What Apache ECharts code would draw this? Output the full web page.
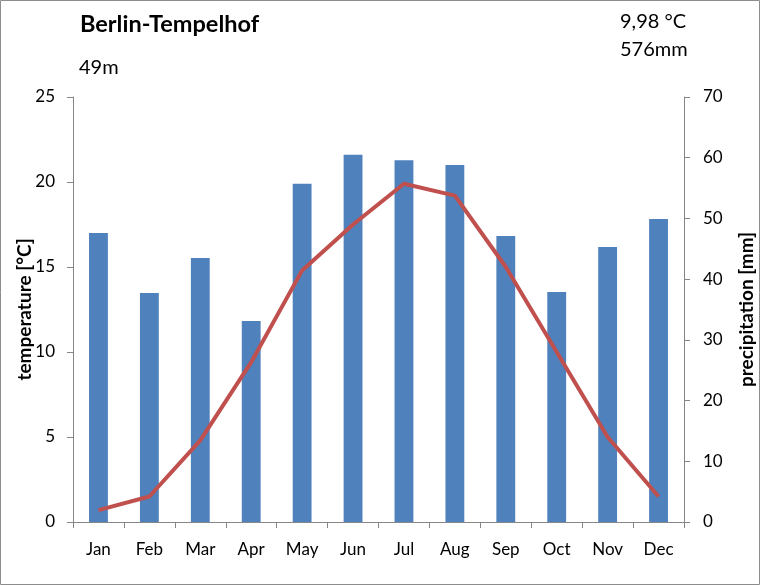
<!DOCTYPE html>
<html>
<head>
<meta charset="utf-8">
<script src="https://cdn.jsdelivr.net/npm/echarts@6/dist/echarts.min.js"></script>
<style>
html,body{margin:0;padding:0;background:#fff;}
#c{width:760px;height:585px;}
</style>
</head>
<body>
<div id="c"></div>
<script>
const months = ['Jan','Feb','Mar','Apr','May','Jun','Jul','Aug','Sep','Oct','Nov','Dec'];
const temperature = [0.7, 1.5, 4.8, 9.4, 14.8, 17.5, 19.9, 19.2, 15.0, 10.0, 5.0, 1.5];
const precipitation = [47.6, 37.7, 43.5, 33.1, 55.7, 60.5, 59.6, 58.8, 47.1, 37.9, 45.3, 49.9];
const tempTicks = {min: 0, max: 25, interval: 5};
const precTicks = {min: 0, max: 70, interval: 10};
const titleText = 'Berlin-Tempelhof';
const elevationText = '49m';
const meanTempText = '9,98 °C';
const totalPrecText = '576mm';

const FONT = 'Lato, "Liberation Sans", sans-serif';
const axisGray = '#868686';
const chart = echarts.init(document.getElementById('c'));
chart.setOption({
  animation: false,
  backgroundColor: '#fff',
  textStyle: {fontFamily: FONT},
  graphic: [
    {type: 'rect', shape: {x: 0.5, y: 0.5, width: 759, height: 584},
     style: {fill: 'none', stroke: '#8c8c8c', lineWidth: 1}},
    {type: 'text', style: {x: 80, y: 24, verticalAlign: 'middle', text: titleText, font: 'bold 23.5px ' + FONT, fill: '#000'}},
    {type: 'text', style: {x: 79, y: 68, verticalAlign: 'middle', text: elevationText, font: '20px ' + FONT, fill: '#000'}},
    {type: 'text', style: {x: 620, y: 22, verticalAlign: 'middle', text: meanTempText, font: '20px ' + FONT, fill: '#000'}},
    {type: 'text', style: {x: 620, y: 50, verticalAlign: 'middle', text: totalPrecText, font: '20px ' + FONT, fill: '#000'}}
  ],
  grid: {left: 73, right: 76, top: 97, bottom: 63, containLabel: false, outerBoundsMode: 'none'},
  xAxis: {
    type: 'category',
    data: months,
    boundaryGap: true,
    axisLine: {lineStyle: {color: axisGray, width: 1}},
    axisTick: {show: true, inside: false, length: 6, alignWithLabel: false, lineStyle: {color: axisGray}},
    axisLabel: {color: '#000', fontSize: 17, margin: 19, fontFamily: FONT}
  },
  yAxis: [
    {
      type: 'value', position: 'left',
      min: tempTicks.min, max: tempTicks.max, interval: tempTicks.interval,
      name: 'temperature [°C]', nameLocation: 'middle', nameGap: 39, nameRotate: 90,
      nameMoveOverlap: false,
      nameTextStyle: {color: '#000', fontWeight: 'bold', fontSize: 19, fontFamily: FONT},
      axisLine: {show: true, lineStyle: {color: axisGray}},
      axisTick: {show: true, length: 6, lineStyle: {color: axisGray}},
      axisLabel: {color: '#000', fontSize: 17, margin: 18, fontFamily: FONT},
      splitLine: {show: false}
    },
    {
      type: 'value', position: 'right',
      min: precTicks.min, max: precTicks.max, interval: precTicks.interval,
      name: 'precipitation [mm]', nameLocation: 'middle', nameGap: 53, nameRotate: 90,
      nameMoveOverlap: false,
      nameTextStyle: {color: '#000', fontWeight: 'bold', fontSize: 19, fontFamily: FONT},
      axisLine: {show: true, lineStyle: {color: axisGray}},
      axisTick: {show: true, length: 6, lineStyle: {color: axisGray}},
      axisLabel: {color: '#000', fontSize: 17, margin: 19, fontFamily: FONT},
      splitLine: {show: false}
    }
  ],
  series: [
    {
      name: 'precipitation', type: 'bar', yAxisIndex: 1,
      data: precipitation, barWidth: '37%',
      itemStyle: {color: '#4F81BD'}
    },
    {
      name: 'temperature', type: 'line', yAxisIndex: 0,
      data: temperature, showSymbol: false, symbol: 'none', smooth: false,
      lineStyle: {color: '#C0504D', width: 4},
      z: 5
    }
  ]
});
</script>
</body>
</html>
